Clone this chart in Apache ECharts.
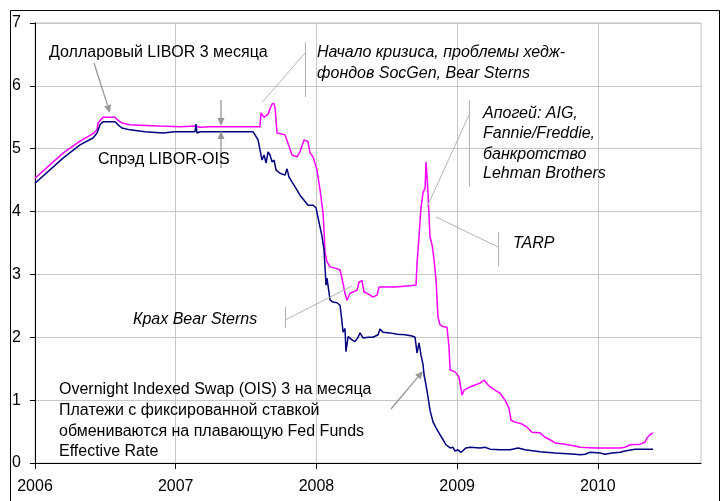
<!DOCTYPE html>
<html><head><meta charset="utf-8">
<script src="https://cdn.jsdelivr.net/npm/echarts@6/dist/echarts.min.js"></script>
<style>html,body{margin:0;padding:0;background:#fff}#c{width:725px;height:501px}</style>
</head><body><div id="c"></div>
<script>
// Decimal-year dates and values (%)
const liborDates = [2006.000,2006.199,2006.320,2006.412,2006.441,2006.448,2006.483,2006.569,2006.590,2006.618,2006.675,2006.782,2006.888,2007.031,2007.137,2007.151,2007.173,2007.244,2007.386,2007.599,2007.606,2007.628,2007.656,2007.684,2007.699,2007.706,2007.720,2007.777,2007.791,2007.827,2007.862,2007.883,2007.912,2007.926,2007.940,2007.955,2007.976,2008.004,2008.026,2008.047,2008.054,2008.061,2008.075,2008.097,2008.132,2008.168,2008.189,2008.203,2008.217,2008.239,2008.260,2008.289,2008.303,2008.324,2008.338,2008.360,2008.381,2008.402,2008.431,2008.445,2008.488,2008.559,2008.665,2008.708,2008.715,2008.729,2008.743,2008.758,2008.772,2008.779,2008.786,2008.793,2008.807,2008.822,2008.836,2008.850,2008.864,2008.878,2008.900,2008.928,2008.942,2008.950,2008.985,2009.013,2009.035,2009.049,2009.092,2009.127,2009.163,2009.191,2009.213,2009.234,2009.269,2009.305,2009.340,2009.369,2009.383,2009.412,2009.461,2009.497,2009.532,2009.589,2009.625,2009.660,2009.696,2009.767,2009.838,2009.873,2009.980,2010.158,2010.193,2010.229,2010.300,2010.335,2010.350,2010.371,2010.392];
const liborValues = [4.53,4.93,5.12,5.24,5.30,5.41,5.50,5.50,5.45,5.41,5.38,5.37,5.36,5.35,5.36,5.33,5.34,5.35,5.35,5.35,5.57,5.50,5.55,5.71,5.72,5.65,5.25,5.22,5.22,4.90,4.87,4.95,5.14,5.16,5.11,4.93,4.87,4.66,4.34,3.97,3.70,3.35,3.20,3.12,3.10,3.07,2.86,2.70,2.59,2.70,2.72,2.75,2.88,2.90,2.72,2.70,2.67,2.64,2.67,2.80,2.80,2.80,2.82,2.83,3.18,3.60,4.06,4.31,4.37,4.79,4.80,4.29,3.60,3.47,3.23,2.91,2.32,2.20,2.17,2.16,1.85,1.48,1.45,1.37,1.08,1.16,1.21,1.24,1.27,1.32,1.26,1.21,1.16,1.11,1.00,0.87,0.68,0.65,0.62,0.57,0.49,0.48,0.41,0.37,0.32,0.30,0.27,0.25,0.24,0.24,0.25,0.29,0.30,0.33,0.40,0.45,0.48];
const oisDates = [2006.000,2006.199,2006.320,2006.412,2006.441,2006.462,2006.483,2006.569,2006.590,2006.618,2006.675,2006.782,2006.910,2006.995,2007.102,2007.137,2007.144,2007.151,2007.173,2007.386,2007.549,2007.564,2007.585,2007.599,2007.613,2007.628,2007.642,2007.656,2007.670,2007.684,2007.699,2007.713,2007.741,2007.777,2007.791,2007.805,2007.827,2007.855,2007.883,2007.912,2007.940,2007.976,2007.997,2008.011,2008.026,2008.040,2008.054,2008.061,2008.068,2008.075,2008.097,2008.118,2008.146,2008.168,2008.182,2008.189,2008.203,2008.210,2008.225,2008.239,2008.253,2008.274,2008.296,2008.310,2008.331,2008.367,2008.402,2008.438,2008.452,2008.473,2008.523,2008.573,2008.630,2008.679,2008.701,2008.715,2008.729,2008.743,2008.758,2008.765,2008.779,2008.793,2008.807,2008.829,2008.850,2008.878,2008.900,2008.921,2008.950,2008.971,2008.985,2009.006,2009.028,2009.063,2009.092,2009.163,2009.198,2009.234,2009.305,2009.376,2009.433,2009.483,2009.589,2009.696,2009.838,2009.873,2009.909,2009.945,2010.016,2010.051,2010.101,2010.158,2010.193,2010.264,2010.335,2010.392];
const oisValues = [4.45,4.85,5.06,5.17,5.25,5.38,5.43,5.43,5.38,5.33,5.30,5.27,5.25,5.27,5.27,5.27,5.39,5.25,5.27,5.27,5.27,5.22,5.14,4.98,4.82,4.90,4.77,4.95,4.90,4.79,4.82,4.66,4.61,4.58,4.68,4.55,4.47,4.37,4.26,4.18,4.10,4.10,4.06,3.91,3.75,3.60,3.39,3.12,2.83,2.94,2.59,2.56,2.55,2.51,2.24,2.08,2.14,1.77,2.01,2.02,1.96,1.93,2.00,2.07,1.99,2.00,2.00,2.04,2.13,2.08,2.07,2.05,2.04,2.02,2.00,1.75,1.91,1.72,1.56,1.40,1.24,1.05,0.84,0.65,0.56,0.45,0.37,0.29,0.24,0.25,0.19,0.21,0.17,0.24,0.25,0.24,0.25,0.22,0.21,0.21,0.24,0.21,0.18,0.16,0.14,0.13,0.14,0.17,0.16,0.14,0.16,0.17,0.19,0.22,0.22,0.22];
const yearTicks = [2006, 2007, 2008, 2009, 2010];
const yTicks = [0, 1, 2, 3, 4, 5, 6, 7];

const FONT = '"Liberation Sans", Arial, sans-serif';
const zip = (a, b) => a.map((d, i) => [d, b[i]]);

const chart = echarts.init(document.getElementById('c'), null, {renderer: 'canvas'});

function txt(x, y, s, italic) {
  return {type: 'text', x: x, y: y, silent: true, z: 100,
    style: {text: s, fill: '#000', font: (italic ? 'italic ' : '') + '16px ' + FONT, textVerticalAlign: 'middle', textAlign: 'left'}};
}
function seg(x1, y1, x2, y2, color) {
  return {type: 'line', silent: true, z: 90, shape: {x1: x1, y1: y1, x2: x2, y2: y2},
    style: {stroke: color || '#b4b4b4', lineWidth: 1}};
}
function arrow(x1, y1, x2, y2) {
  const ang = Math.atan2(y2 - y1, x2 - x1), L = 8, W = 3.5;
  const bx = x2 - L * Math.cos(ang), by = y2 - L * Math.sin(ang);
  const px = -Math.sin(ang) * W, py = Math.cos(ang) * W;
  return [
    {type: 'line', silent: true, z: 90, shape: {x1: x1, y1: y1, x2: bx, y2: by}, style: {stroke: '#969696', lineWidth: 1.3}},
    {type: 'polygon', silent: true, z: 90, shape: {points: [[x2, y2], [bx + px, by + py], [bx - px, by - py]]}, style: {fill: '#969696'}}
  ];
}

const graphics = [
  {type: 'rect', silent: true, z: 100, shape: {x: 10.5, y: 10.5, width: 709, height: 520}, style: {fill: 'none', stroke: '#000', lineWidth: 1}},
  txt(49, 53, 'Долларовый LIBOR 3 месяца'),
  txt(98, 160, 'Спрэд LIBOR-OIS'),
  txt(317, 53, 'Начало кризиса, проблемы хедж-', true),
  txt(317, 73.5, 'фондов SocGen, Bear Sterns', true),
  txt(483, 113.5, 'Апогей: AIG,', true),
  txt(483, 134, 'Fannie/Freddie,', true),
  txt(483, 154.5, 'банкротство', true),
  txt(483, 174, 'Lehman Brothers', true),
  txt(513, 243.5, 'TARP', true),
  txt(133, 320, 'Крах Bear Sterns', true),
  txt(59, 390, 'Overnight Indexed Swap (OIS) 3 на месяца'),
  txt(59, 411, 'Платежи с фиксированной ставкой'),
  txt(59, 431.5, 'обмениваются на плавающую Fed Funds'),
  txt(59, 452, 'Effective Rate'),
  seg(262, 102.5, 305, 53), seg(305.5, 42, 305.5, 97),
  seg(469, 115, 427, 207), seg(469.5, 100, 469.5, 187),
  seg(436, 217, 498, 247), seg(498.5, 232, 498.5, 266),
  seg(285, 320, 352, 286), seg(285.5, 307, 285.5, 328)
].concat(arrow(94, 63, 110, 113), arrow(221, 100, 221, 126), arrow(221, 168, 221, 131), arrow(391, 409, 423, 371));

chart.setOption({
  animation: false,
  backgroundColor: '#fff',
  grid: {left: 35, top: 23, right: 24, bottom: 38, show: true, borderColor: '#c0c0c0', borderWidth: 1, backgroundColor: '#fff'},
  xAxis: {
    type: 'value', min: 2006, max: 2010.733, interval: 1,
    axisLine: {show: true, lineStyle: {color: '#000', width: 1}},
    axisTick: {show: true, length: 6, customValues: yearTicks, lineStyle: {color: '#000'}},
    axisLabel: {customValues: yearTicks, fontSize: 16, color: '#000', fontFamily: FONT, margin: 16, formatter: v => String(v)},
    splitLine: {show: true, lineStyle: {color: '#c8c8c8', width: 1}}
  },
  yAxis: {
    type: 'value', min: 0, max: 7, interval: 1,
    axisLine: {show: true, lineStyle: {color: '#000', width: 1}},
    axisTick: {show: true, length: 5, lineStyle: {color: '#000'}},
    axisLabel: {fontSize: 16, color: '#000', fontFamily: FONT, margin: 14},
    splitLine: {show: true, lineStyle: {color: '#c8c8c8', width: 1}}
  },
  series: [
    {name: 'LIBOR', type: 'line', data: zip(liborDates, liborValues), showSymbol: false, symbol: 'none',
     lineStyle: {color: '#ff00ff', width: 1.5}, z: 3},
    {name: 'OIS', type: 'line', data: zip(oisDates, oisValues), showSymbol: false, symbol: 'none',
     lineStyle: {color: '#000080', width: 1.5}, z: 4}
  ],
  graphic: graphics
});
</script></body></html>
